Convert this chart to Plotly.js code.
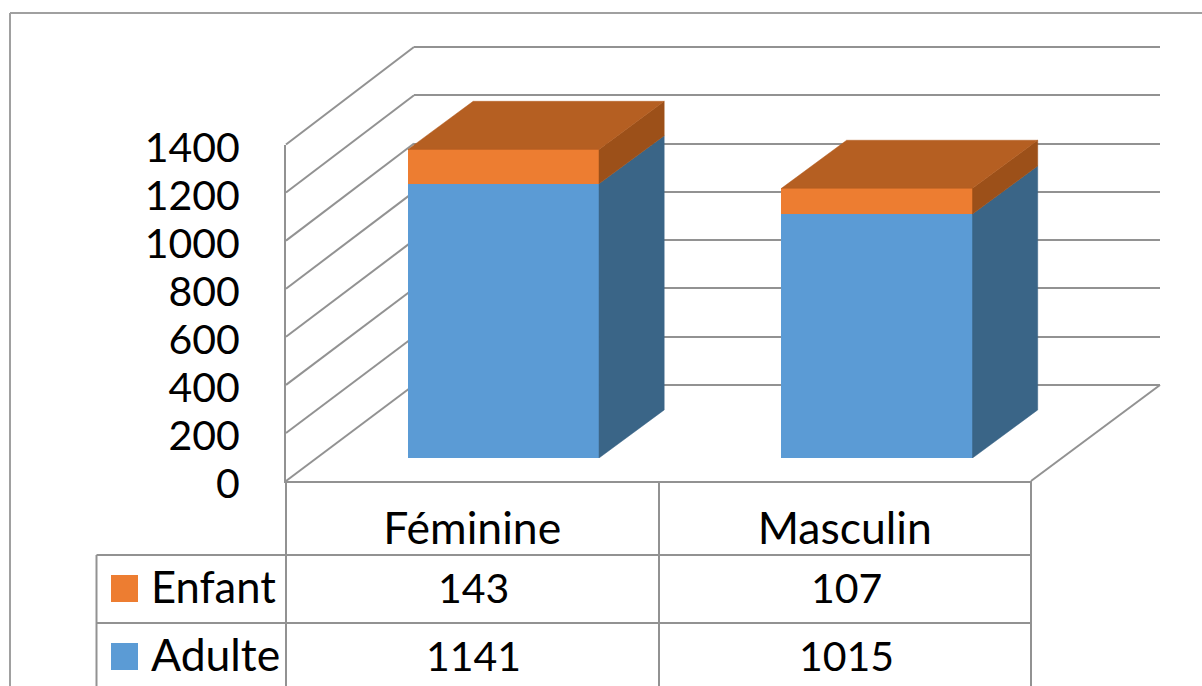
<!DOCTYPE html>
<html>
<head>
<meta charset="utf-8">
<script src="https://cdn.plot.ly/plotly-3.0.1.min.js"></script>
<style>html,body{margin:0;padding:0;background:#fff}#chart{width:1202px;height:686px}</style>
</head>
<body>
<div id="chart"></div>
<script>
const categories = ['Féminine', 'Masculin'];
const adulte = [1141, 1015];
const enfant = [143, 107];
const yTicks = [0, 200, 400, 600, 800, 1000, 1200, 1400];

const W = 1202, H = 686;
const FONT = 'Lato, Carlito, sans-serif';
const FS_NUM = 41, FS_WORD = 44.5;
const GRID = '#929292';
const GW = 2;
const px = v => v / W;
const py = v => 1 - v / H;

// depth of the pseudo-3D box, in axis units
const barWidth = 0.5115, depthX = 0.1745, depthY = 200;
const pxPerUnit = 336.5 / 1400;

function faces(segFn) {
  const xs = [], ys = [];
  categories.forEach((c, i) => {
    const p = segFn(i);
    p.forEach(q => { xs.push(q[0]); ys.push(q[1]); });
    xs.push(null); ys.push(null);
  });
  return {xs, ys};
}
const sideFace = (lo, hi) => i => {
  const r = i + barWidth / 2;
  return [[r, lo(i)], [r + depthX, lo(i) + depthY], [r + depthX, hi(i) + depthY], [r, hi(i)], [r, lo(i)]];
};
const total = i => adulte[i] + enfant[i];
const topFace = i => {
  const l = i - barWidth / 2, r = i + barWidth / 2, t = total(i);
  return [[l, t], [l + depthX, t + depthY], [r + depthX, t + depthY], [r, t], [l, t]];
};
const faceTrace = (f, color) => ({
  type: 'scatter', mode: 'lines', x: f.xs, y: f.ys, xaxis: 'x3', yaxis: 'y3',
  fill: 'toself', fillcolor: color, line: {color: color, width: 0.5},
  hoverinfo: 'skip', showlegend: false
});

const idx = categories.map((c, i) => i);
const traces = [
  // invisible carriers so the wall and label axes are drawn
  {type: 'scatter', mode: 'none', x: [0], y: [0], xaxis: 'x', yaxis: 'y', showlegend: false, hoverinfo: 'skip'},
  {type: 'scatter', mode: 'none', x: [0], y: [0], xaxis: 'x2', yaxis: 'y2', showlegend: false, hoverinfo: 'skip'},
  {type: 'bar', name: 'Adulte', x: idx, y: adulte, xaxis: 'x3', yaxis: 'y3', marker: {color: '#5B9BD5'}, showlegend: false},
  {type: 'bar', name: 'Enfant', x: idx, y: enfant, xaxis: 'x3', yaxis: 'y3', marker: {color: '#ED7D31'}, showlegend: false},
  faceTrace(faces(sideFace(() => 0, i => adulte[i])), '#3A6587'),
  faceTrace(faces(sideFace(i => adulte[i], total)), '#9C5019'),
  faceTrace(faces(topFace), '#B55F22')
];

// pixel geometry of the planes
const front = {l: 286, r: 1031, b: 481, t: 144.5};
const back = {l: 414, r: 1160, b: 385, t: 47};
const frontY = v => front.b - (front.b - front.t) * v / 1400;
const backY = v => back.b - (back.b - back.t) * v / 1400;

const line = (x0, y0, x1, y1, w, c) => ({
  type: 'line', xref: 'paper', yref: 'paper', layer: 'below',
  x0: px(x0), y0: py(y0), x1: px(x1), y1: py(y1),
  line: {color: c || GRID, width: w || GW}
});
const shapes = [
  line(10, 13, 1202, 13, 2, '#a0a0a0'),
  line(10, 13, 10, 686, 2, '#a0a0a0'),
  line(front.r, front.b, back.r, back.b),
  line(front.l, front.b, front.l, 686),
  line(659, front.b, 659, 686),
  line(front.r, front.b, front.r, 686),
  line(96.5, 555, 96.5, 686),
  line(96.5, 555, front.r, 555),
  line(96.5, 623, front.r, 623)
];
yTicks.forEach(v => shapes.push(line(front.l, frontY(v), back.l, backY(v))));

const keyColors = ['#ED7D31', '#5B9BD5'];
const rowCenters = [587, 655];
const keyBox = (cy, color) => ({
  type: 'rect', xref: 'paper', yref: 'paper', layer: 'above',
  x0: px(111), x1: px(138), y0: py(cy + 13.5), y1: py(cy - 13.5),
  fillcolor: color, line: {width: 0}
});
keyColors.forEach((c, i) => shapes.push(keyBox(rowCenters[i] + 1.5, c)));

const note = (text, x, y, anchor, size) => ({
  text: String(text), xref: 'paper', yref: 'paper', x: px(x), y: py(y),
  xanchor: anchor, yanchor: 'middle', showarrow: false,
  font: {family: FONT, size: size, color: '#000'}
});
const annotations = [
  note('Enfant', 149, rowCenters[0] - 1.5, 'left', 43.5),
  note('Adulte', 149, rowCenters[1] - 1.5, 'left', FS_WORD)
];
[enfant, adulte].forEach((row, r) => row.forEach((v, i) => {
  annotations.push(note(v, i === 0 ? 473 : 846, rowCenters[r], 'center', FS_NUM));
}));

const hidden = {visible: false, fixedrange: true};
const wallTop = 1500;
const layout = {
  width: W, height: H,
  margin: {l: 0, r: 0, t: 0, b: 0},
  paper_bgcolor: '#fff', plot_bgcolor: 'rgba(0,0,0,0)',
  showlegend: false,
  barmode: 'stack', bargap: 1 - barWidth,
  font: {family: FONT, size: FS_NUM, color: '#000'},
  shapes, annotations,
  // back wall: gridlines
  xaxis: Object.assign({}, hidden, {domain: [px(back.l), px(back.r)], range: [0, 1], anchor: 'y'}),
  yaxis: {domain: [py(back.b), py(back.b - (back.b - back.t) * wallTop / 1400)], range: [0, wallTop], tickvals: yTicks, anchor: 'x',
    showgrid: true, gridcolor: GRID, gridwidth: GW, zeroline: true, zerolinecolor: GRID, zerolinewidth: GW,
    showline: false, showticklabels: false, ticks: '', fixedrange: true},
  // front plane: labels
  xaxis2: {domain: [px(front.l), px(front.r)], range: [-0.5, 1.5], anchor: 'y2',
    tickvals: idx, ticktext: categories, ticks: '', ticklabelstandoff: 8, showgrid: false, zeroline: false,
    showline: true, linecolor: GRID, linewidth: GW, tickfont: {family: FONT, size: FS_WORD, color: '#000'}, fixedrange: true},
  yaxis2: {domain: [py(front.b), py(front.t)], range: [0, 1400], tickvals: yTicks, anchor: 'x2',
    ticks: '', ticklabelstandoff: 36, ticklabelshift: 3, showgrid: false, zeroline: false,
    showline: true, linecolor: GRID, linewidth: GW, tickfont: {family: FONT, size: FS_NUM, color: '#000'}, fixedrange: true},
  // bar plane
  xaxis3: Object.assign({}, hidden, {domain: [px(316.75), px(1063.75)], range: [-0.5, 1.5], anchor: 'y3'}),
  yaxis3: Object.assign({}, hidden, {domain: [py(458), py(458 - 1600 * pxPerUnit)], range: [0, 1600], anchor: 'x3'})
};
Plotly.newPlot('chart', traces, layout, {staticPlot: true, displayModeBar: false});
</script>
</body>
</html>
